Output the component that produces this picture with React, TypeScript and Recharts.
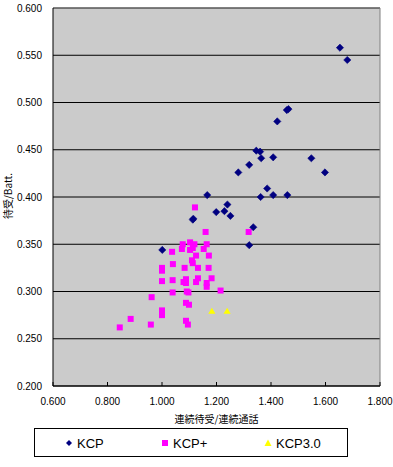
import React from 'react';
import { ScatterChart, Scatter, XAxis, YAxis, CartesianGrid, ReferenceLine } from 'recharts';

const xTicks = [0.6, 0.8, 1.0, 1.2, 1.4, 1.6, 1.8];
const yTicks = [0.2, 0.25, 0.3, 0.35, 0.4, 0.45, 0.5, 0.55, 0.6];

const seriesNames = ['KCP', 'KCP+', 'KCP3.0'];

const kcpX = [1.653, 1.680, 1.458, 1.464, 1.423, 1.346, 1.360, 1.364, 1.408, 1.548, 1.320, 1.280, 1.598, 1.386, 1.166, 1.362, 1.408, 1.460, 1.240, 1.199, 1.229, 1.251, 1.113, 1.115, 1.335, 1.320, 1.001];
const kcpY = [0.558, 0.545, 0.492, 0.493, 0.480, 0.449, 0.448, 0.441, 0.442, 0.441, 0.434, 0.426, 0.426, 0.409, 0.402, 0.400, 0.402, 0.402, 0.392, 0.384, 0.385, 0.380, 0.376, 0.377, 0.368, 0.349, 0.344];

const kcpPlusX = [1.121, 1.318, 1.160, 1.076, 1.103, 1.119, 1.164, 1.073, 1.103, 1.113, 1.153, 1.037, 1.125, 1.172, 1.110, 1.113, 1.040, 1.000, 1.000, 1.083, 1.132, 1.171, 1.000, 1.039, 1.079, 1.088, 1.088, 1.125, 1.132, 1.164, 1.164, 1.182, 1.215, 1.039, 1.091, 1.097, 0.962, 1.088, 1.099, 1.000, 1.000, 0.885, 1.088, 1.095, 0.959, 0.845];
const kcpPlusY = [0.389, 0.363, 0.363, 0.350, 0.352, 0.350, 0.350, 0.345, 0.344, 0.346, 0.345, 0.342, 0.338, 0.338, 0.333, 0.330, 0.329, 0.325, 0.322, 0.325, 0.325, 0.325, 0.311, 0.312, 0.310, 0.313, 0.309, 0.310, 0.314, 0.309, 0.305, 0.314, 0.301, 0.299, 0.300, 0.299, 0.294, 0.288, 0.286, 0.280, 0.275, 0.271, 0.269, 0.265, 0.265, 0.262];

const kcp30X = [1.183, 1.239];
const kcp30Y = [0.279, 0.279];

const toPoints = (xs: number[], ys: number[]) => xs.map((x, i) => ({ x, y: ys[i] }));

const FONT = '"Liberation Sans", Arial, sans-serif';
const JP = '"Noto Sans CJK JP", "Liberation Sans", sans-serif';

const NAVY = '#000080';
const MAGENTA = '#FF00FF';
const YELLOW = '#FFFF00';

const Diamond = (p: any) => {
  const { cx, cy } = p;
  const r = 3.6;
  return <polygon points={`${cx},${cy - r} ${cx + r},${cy} ${cx},${cy + r} ${cx - r},${cy}`} fill={NAVY} stroke={NAVY} strokeWidth={0.6} />;
};

const Square = (p: any) => {
  const { cx, cy } = p;
  return <rect x={cx - 3} y={cy - 3} width={6} height={6} fill={MAGENTA} />;
};

const Triangle = (p: any) => {
  const { cx, cy } = p;
  return <polygon points={`${cx},${cy - 3.5} ${cx + 3.6},${cy + 2.5} ${cx - 3.6},${cy + 2.5}`} fill={YELLOW} />;
};

const XTick = (p: any) => {
  const { x, y, payload } = p;
  return (
    <g>
      <line x1={x} x2={x} y1={y - 4} y2={y} stroke="#000" />
      <text x={x} y={y + 19} textAnchor="middle" fontSize={10} fontFamily={FONT} fill="#000">
        {Number(payload.value).toFixed(3)}
      </text>
    </g>
  );
};

const fmt3 = (v: number) => v.toFixed(3);

export default function App() {
  return (
    <div style={{ position: 'absolute', left: 0, top: 0, width: 393, height: 467, background: '#fff', fontFamily: FONT }}>
      <ScatterChart width={393} height={425} margin={{ top: 8, right: 13, bottom: 9, left: 0 }}>
        <CartesianGrid horizontal={true} vertical={false} stroke="#000" fill="#CBCBCB" fillOpacity={1} />
        <XAxis
          type="number"
          dataKey="x"
          domain={[0.6, 1.8]}
          ticks={xTicks}
          interval={0}
          height={30}
          tickLine={false}
          tickSize={0}
          tickMargin={0}
          tick={<XTick />}
          axisLine={{ stroke: '#000' }}
          allowDataOverflow
        />
        <YAxis
          type="number"
          dataKey="y"
          domain={[0.2, 0.6]}
          ticks={yTicks}
          interval={0}
          width={53}
          tickLine={false}
          tickSize={0}
          tickMargin={11}
          tickFormatter={fmt3}
          tick={{ fontSize: 10, fill: '#000', fontFamily: FONT }}
          axisLine={{ stroke: '#000' }}
          allowDataOverflow
        />
        <ReferenceLine y={0.6} stroke="#808080" />
        <ReferenceLine x={1.8} stroke="#808080" />
        <Scatter name={seriesNames[1]} data={toPoints(kcpPlusX, kcpPlusY)} shape={Square} isAnimationActive={false} />
        <Scatter name={seriesNames[2]} data={toPoints(kcp30X, kcp30Y)} shape={Triangle} isAnimationActive={false} />
        <Scatter name={seriesNames[0]} data={toPoints(kcpX, kcpY)} shape={Diamond} isAnimationActive={false} />
      </ScatterChart>
      <svg width={393} height={467} style={{ position: 'absolute', left: 0, top: 0, pointerEvents: 'none' }}>
        <text x={216.5} y={423} textAnchor="middle" fontSize={10} fontFamily={JP} fill="#000">連続待受/連続通話</text>
        <text x={0} y={0} transform="translate(12,196) rotate(-90)" textAnchor="middle" fontSize={10} fontFamily={JP} fill="#000">待受/Batt.</text>
      </svg>
      <div style={{ position: 'absolute', left: 34, top: 428, width: 314, height: 29, border: '1px solid #000', boxSizing: 'border-box' }}>
        <svg width={312} height={27} style={{ position: 'absolute', left: 0, top: 0 }}>
          <polygon points="34,11 37,14 34,17 31,14" fill={NAVY} />
          <text x={42} y={19} fontSize={13} fontFamily={FONT} fill="#000">{seriesNames[0]}</text>
          <rect x={127} y={11} width={6} height={6} fill={MAGENTA} />
          <text x={138} y={19} fontSize={13} fontFamily={FONT} fill="#000">{seriesNames[1]}</text>
          <polygon points="233,10.5 236.5,17 229.5,17" fill={YELLOW} />
          <text x={241} y={19} fontSize={13} fontFamily={FONT} fill="#000">{seriesNames[2]}</text>
        </svg>
      </div>
    </div>
  );
}
